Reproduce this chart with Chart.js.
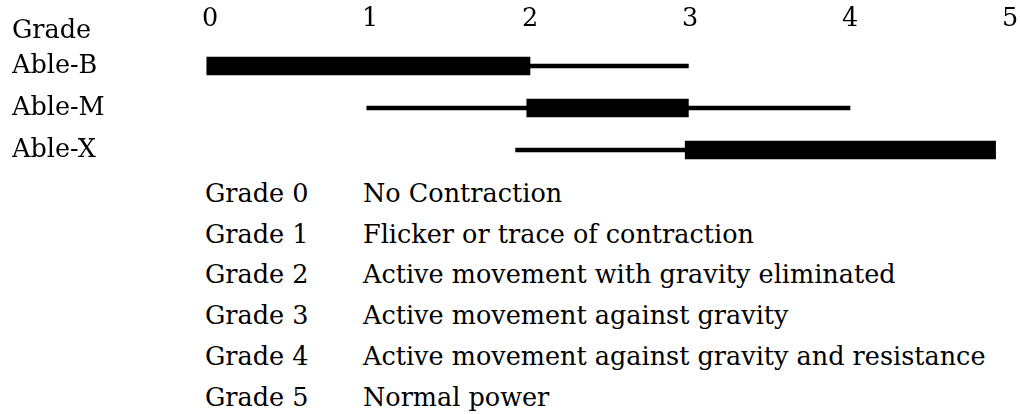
<!DOCTYPE html>
<html lang="en">
<head>
    <meta charset="UTF-8">
    <title>Muscle Grade Ranges</title>
    <script src="https://cdn.jsdelivr.net/npm/chart.js"></script>
    <style>
        body { margin: 0; background: #fff; }
        #wrap { position: relative; width: 1020px; height: 414px; font-family: "DejaVu Serif", serif; font-size: 25.5px; color: #000; }
        #chartBox { position: absolute; left: 0; top: 0; width: 1020px; height: 171px; }
        #gradeHead { position: absolute; left: 12px; top: 9px; line-height: 40px; }
        #key { position: absolute; left: 205px; top: 173px; line-height: 40.7px; }
        #key .row { display: flex; white-space: nowrap; }
        #key .g { width: 158px; }
    </style>
</head>
<body>
    <div id="wrap">
        <div id="chartBox"><canvas id="gradeChart"></canvas></div>
        <div id="gradeHead">Grade</div>
        <div id="key"></div>
    </div>

    <script>
        const devices = ['Able-B', 'Able-M', 'Able-X'];
        const gradeTicks = [0, 1, 2, 3, 4, 5];
        // thick bar = main range, thin line = full range
        const mainRange = [[-0.02, 2.0], [1.98, 2.99], [2.97, 4.91]];
        const fullRange = [[2.0, 2.99], [0.98, 4.0], [1.91, 3.0]];
        const gradeNames = ['Grade 0', 'Grade 1', 'Grade 2', 'Grade 3', 'Grade 4', 'Grade 5'];
        const gradeText = [
            'No Contraction',
            'Flicker or trace of contraction',
            'Active movement with gravity eliminated',
            'Active movement against gravity',
            'Active movement against gravity and resistance',
            'Normal power'
        ];

        const key = document.getElementById('key');
        gradeNames.forEach((g, i) => {
            const row = document.createElement('div');
            row.className = 'row';
            row.innerHTML = `<span class="g">${g}</span><span>${gradeText[i]}</span>`;
            key.appendChild(row);
        });

        const font = { family: '"DejaVu Serif", serif', size: 25.5 };

        new Chart(document.getElementById('gradeChart'), {
            type: 'bar',
            data: {
                labels: devices,
                datasets: [
                    {
                        data: mainRange,
                        backgroundColor: '#000',
                        barThickness: 18,
                        grouped: false,
                        clip: false
                    },
                    {
                        data: fullRange,
                        backgroundColor: '#000',
                        barThickness: 4,
                        grouped: false,
                        clip: false
                    }
                ]
            },
            options: {
                indexAxis: 'y',
                responsive: true,
                maintainAspectRatio: false,
                animation: false,
                layout: { padding: { left: 12, right: 10, top: 0, bottom: 0 } },
                plugins: {
                    legend: { display: false },
                    tooltip: { enabled: false }
                },
                scales: {
                    x: {
                        position: 'top',
                        min: 0,
                        max: 5,
                        grid: { display: false },
                        border: { display: false },
                        ticks: {
                            stepSize: 1,
                            padding: 2,
                            color: '#000',
                            font: font,
                            maxRotation: 0,
                            callback: (v) => gradeTicks.includes(v) ? String(v) : ''
                        },
                        afterFit: (scale) => {
                            scale.height = 45;
                            scale.paddingLeft = 0;
                            scale.paddingRight = 0;
                        }
                    },
                    y: {
                        grid: { display: false },
                        border: { display: false },
                        ticks: {
                            crossAlign: 'far',
                            color: '#000',
                            font: font
                        },
                        afterFit: (scale) => {
                            scale.width = 198;
                            scale.paddingTop = 0;
                            scale.paddingBottom = 0;
                        }
                    }
                }
            }
        });
    </script>
</body>
</html>
